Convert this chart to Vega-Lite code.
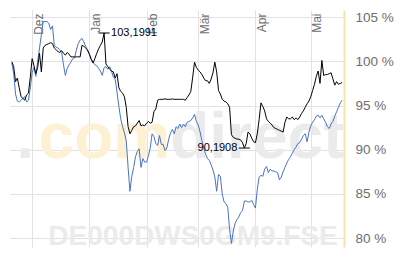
{
  "$schema": "https://vega.github.io/schema/vega-lite/v6.json",
  "width": 334,
  "height": 237,
  "autosize": {"type": "none"},
  "padding": {"left": 10, "top": 10, "right": 69, "bottom": 23},
  "background": "white",
  "config": {"font": "Liberation Sans", "view": {"stroke": null}},
  "data": {"values": [
    {"date":"2012-11-20","fonds":99.94,"vergleich":99.8},
    {"date":"2012-11-21","fonds":99.4,"vergleich":98.6},
    {"date":"2012-11-22","fonds":97.7,"vergleich":96.3},
    {"date":"2012-11-23","fonds":98.1,"vergleich":95.5},
    {"date":"2012-11-24","fonds":97.0,"vergleich":95.4},
    {"date":"2012-11-25","fonds":96.0,"vergleich":95.6},
    {"date":"2012-11-26","fonds":95.8,"vergleich":95.8},
    {"date":"2012-11-27","fonds":95.6,"vergleich":96.0},
    {"date":"2012-11-28","fonds":96.2,"vergleich":95.4},
    {"date":"2012-11-29","fonds":96.4,"vergleich":95.6},
    {"date":"2012-11-30","fonds":98.2,"vergleich":97.0},
    {"date":"2012-12-01","fonds":100.3,"vergleich":98.7},
    {"date":"2012-12-02","fonds":99.5,"vergleich":99.3},
    {"date":"2012-12-03","fonds":98.6,"vergleich":98.3},
    {"date":"2012-12-04","fonds":99.3,"vergleich":100.0},
    {"date":"2012-12-05","fonds":100.9,"vergleich":101.5},
    {"date":"2012-12-06","fonds":98.8,"vergleich":103.0},
    {"date":"2012-12-07","fonds":101.5,"vergleich":104.5},
    {"date":"2012-12-08","fonds":101.8,"vergleich":104.5},
    {"date":"2012-12-09","fonds":101.9,"vergleich":104.5},
    {"date":"2012-12-10","fonds":102.0,"vergleich":104.3},
    {"date":"2012-12-11","fonds":102.1,"vergleich":103.6},
    {"date":"2012-12-12","fonds":102.0,"vergleich":104.0},
    {"date":"2012-12-13","fonds":101.5,"vergleich":101.8},
    {"date":"2012-12-14","fonds":101.3,"vergleich":101.6},
    {"date":"2012-12-15","fonds":101.1,"vergleich":101.5},
    {"date":"2012-12-16","fonds":101.0,"vergleich":101.3},
    {"date":"2012-12-17","fonds":101.2,"vergleich":101.0},
    {"date":"2012-12-18","fonds":100.9,"vergleich":99.6},
    {"date":"2012-12-19","fonds":100.7,"vergleich":98.4},
    {"date":"2012-12-20","fonds":101.0,"vergleich":99.2},
    {"date":"2012-12-21","fonds":100.8,"vergleich":99.6},
    {"date":"2012-12-22","fonds":100.5,"vergleich":99.9},
    {"date":"2012-12-23","fonds":100.5,"vergleich":100.3},
    {"date":"2012-12-24","fonds":100.5,"vergleich":100.4},
    {"date":"2012-12-25","fonds":100.5,"vergleich":101.3},
    {"date":"2012-12-26","fonds":100.5,"vergleich":102.0},
    {"date":"2012-12-27","fonds":100.5,"vergleich":102.4},
    {"date":"2012-12-28","fonds":101.8,"vergleich":102.6},
    {"date":"2012-12-29","fonds":101.7,"vergleich":102.2},
    {"date":"2012-12-30","fonds":101.5,"vergleich":101.7},
    {"date":"2012-12-31","fonds":101.3,"vergleich":101.2},
    {"date":"2013-01-01","fonds":100.8,"vergleich":100.8},
    {"date":"2013-01-02","fonds":100.2,"vergleich":100.3},
    {"date":"2013-01-03","fonds":99.8,"vergleich":99.9},
    {"date":"2013-01-04","fonds":100.3,"vergleich":99.6},
    {"date":"2013-01-05","fonds":100.9,"vergleich":99.5},
    {"date":"2013-01-06","fonds":101.4,"vergleich":99.2},
    {"date":"2013-01-07","fonds":101.8,"vergleich":98.9},
    {"date":"2013-01-08","fonds":102.2,"vergleich":98.4},
    {"date":"2013-01-09","fonds":103.1991,"vergleich":99.3},
    {"date":"2013-01-10","fonds":99.7,"vergleich":99.4},
    {"date":"2013-01-11","fonds":99.4,"vergleich":99.1},
    {"date":"2013-01-12","fonds":99.1,"vergleich":99.4},
    {"date":"2013-01-13","fonds":98.9,"vergleich":98.9},
    {"date":"2013-01-14","fonds":98.8,"vergleich":98.2},
    {"date":"2013-01-15","fonds":98.1,"vergleich":98.0},
    {"date":"2013-01-16","fonds":98.6,"vergleich":96.5},
    {"date":"2013-01-17","fonds":97.0,"vergleich":94.9},
    {"date":"2013-01-18","fonds":96.6,"vergleich":93.5},
    {"date":"2013-01-19","fonds":96.4,"vergleich":92.6},
    {"date":"2013-01-20","fonds":96.0,"vergleich":91.9},
    {"date":"2013-01-21","fonds":94.8,"vergleich":91.0},
    {"date":"2013-01-22","fonds":92.6,"vergleich":88.0},
    {"date":"2013-01-23","fonds":91.8,"vergleich":85.3},
    {"date":"2013-01-24","fonds":92.2,"vergleich":87.0},
    {"date":"2013-01-25","fonds":92.6,"vergleich":88.0},
    {"date":"2013-01-26","fonds":92.7,"vergleich":89.2},
    {"date":"2013-01-27","fonds":93.0,"vergleich":89.8},
    {"date":"2013-01-28","fonds":93.3,"vergleich":90.1},
    {"date":"2013-01-29","fonds":92.7,"vergleich":88.0},
    {"date":"2013-01-30","fonds":92.8,"vergleich":89.0},
    {"date":"2013-01-31","fonds":92.7,"vergleich":88.6},
    {"date":"2013-02-01","fonds":93.0,"vergleich":88.6},
    {"date":"2013-02-02","fonds":93.2,"vergleich":89.3},
    {"date":"2013-02-03","fonds":93.0,"vergleich":90.2},
    {"date":"2013-02-04","fonds":93.1,"vergleich":91.8},
    {"date":"2013-02-05","fonds":94.3,"vergleich":91.5},
    {"date":"2013-02-06","fonds":94.6,"vergleich":90.7},
    {"date":"2013-02-07","fonds":95.6,"vergleich":90.5},
    {"date":"2013-02-08","fonds":95.7,"vergleich":91.6},
    {"date":"2013-02-09","fonds":95.7,"vergleich":90.6},
    {"date":"2013-02-10","fonds":95.7,"vergleich":90.6},
    {"date":"2013-02-11","fonds":95.75,"vergleich":89.9},
    {"date":"2013-02-12","fonds":95.7,"vergleich":90.2},
    {"date":"2013-02-13","fonds":95.7,"vergleich":91.2},
    {"date":"2013-02-14","fonds":95.7,"vergleich":91.9},
    {"date":"2013-02-15","fonds":95.75,"vergleich":92.3},
    {"date":"2013-02-16","fonds":95.7,"vergleich":91.8},
    {"date":"2013-02-17","fonds":95.7,"vergleich":92.6},
    {"date":"2013-02-18","fonds":95.7,"vergleich":92.4},
    {"date":"2013-02-19","fonds":95.7,"vergleich":92.9},
    {"date":"2013-02-20","fonds":95.7,"vergleich":92.5},
    {"date":"2013-02-21","fonds":95.7,"vergleich":92.9},
    {"date":"2013-02-22","fonds":95.6,"vergleich":92.6},
    {"date":"2013-02-23","fonds":95.9,"vergleich":93.1},
    {"date":"2013-02-24","fonds":96.2,"vergleich":93.2},
    {"date":"2013-02-25","fonds":96.6,"vergleich":93.3},
    {"date":"2013-02-26","fonds":98.2,"vergleich":93.6},
    {"date":"2013-02-27","fonds":99.9,"vergleich":94.0},
    {"date":"2013-02-28","fonds":99.3,"vergleich":93.2},
    {"date":"2013-03-01","fonds":99.0,"vergleich":92.8},
    {"date":"2013-03-02","fonds":98.8,"vergleich":92.0},
    {"date":"2013-03-03","fonds":98.5,"vergleich":91.0},
    {"date":"2013-03-04","fonds":98.1,"vergleich":90.2},
    {"date":"2013-03-05","fonds":97.8,"vergleich":89.5},
    {"date":"2013-03-06","fonds":97.8,"vergleich":89.0},
    {"date":"2013-03-07","fonds":97.5,"vergleich":88.8},
    {"date":"2013-03-08","fonds":98.0,"vergleich":88.3},
    {"date":"2013-03-09","fonds":98.7,"vergleich":87.7},
    {"date":"2013-03-10","fonds":99.9,"vergleich":86.9},
    {"date":"2013-03-11","fonds":98.8,"vergleich":85.3},
    {"date":"2013-03-12","fonds":96.7,"vergleich":87.2},
    {"date":"2013-03-13","fonds":96.3,"vergleich":87.0},
    {"date":"2013-03-14","fonds":95.7,"vergleich":85.0},
    {"date":"2013-03-15","fonds":95.5,"vergleich":84.1},
    {"date":"2013-03-16","fonds":95.4,"vergleich":83.9},
    {"date":"2013-03-17","fonds":95.2,"vergleich":83.5},
    {"date":"2013-03-18","fonds":94.8,"vergleich":81.0},
    {"date":"2013-03-19","fonds":91.7,"vergleich":79.4},
    {"date":"2013-03-20","fonds":91.4,"vergleich":80.8},
    {"date":"2013-03-21","fonds":91.3,"vergleich":81.7},
    {"date":"2013-03-22","fonds":91.2,"vergleich":82.1},
    {"date":"2013-03-23","fonds":91.2,"vergleich":82.4},
    {"date":"2013-03-24","fonds":91.1,"vergleich":82.9},
    {"date":"2013-03-25","fonds":90.8,"vergleich":83.1},
    {"date":"2013-03-26","fonds":90.1908,"vergleich":84.2},
    {"date":"2013-03-27","fonds":90.7,"vergleich":84.2},
    {"date":"2013-03-28","fonds":92.0,"vergleich":84.1},
    {"date":"2013-03-29","fonds":91.8,"vergleich":84.1},
    {"date":"2013-03-30","fonds":91.3,"vergleich":84.3},
    {"date":"2013-03-31","fonds":90.9,"vergleich":83.8},
    {"date":"2013-04-01","fonds":90.8,"vergleich":83.4},
    {"date":"2013-04-02","fonds":91.8,"vergleich":85.5},
    {"date":"2013-04-03","fonds":93.4,"vergleich":86.9},
    {"date":"2013-04-04","fonds":95.3,"vergleich":87.1},
    {"date":"2013-04-05","fonds":94.9,"vergleich":87.0},
    {"date":"2013-04-06","fonds":94.4,"vergleich":87.8},
    {"date":"2013-04-07","fonds":93.5,"vergleich":88.1},
    {"date":"2013-04-08","fonds":93.2,"vergleich":87.4},
    {"date":"2013-04-09","fonds":93.0,"vergleich":87.8},
    {"date":"2013-04-10","fonds":92.8,"vergleich":87.6},
    {"date":"2013-04-11","fonds":92.5,"vergleich":87.6},
    {"date":"2013-04-12","fonds":92.4,"vergleich":87.5},
    {"date":"2013-04-13","fonds":92.3,"vergleich":87.4},
    {"date":"2013-04-14","fonds":92.2,"vergleich":86.6},
    {"date":"2013-04-15","fonds":92.1,"vergleich":86.9},
    {"date":"2013-04-16","fonds":92.0,"vergleich":87.5},
    {"date":"2013-04-17","fonds":93.1,"vergleich":88.0},
    {"date":"2013-04-18","fonds":93.7,"vergleich":88.5},
    {"date":"2013-04-19","fonds":93.5,"vergleich":88.9},
    {"date":"2013-04-20","fonds":93.5,"vergleich":89.2},
    {"date":"2013-04-21","fonds":93.7,"vergleich":89.6},
    {"date":"2013-04-22","fonds":93.4,"vergleich":90.0},
    {"date":"2013-04-23","fonds":93.6,"vergleich":90.3},
    {"date":"2013-04-24","fonds":93.4,"vergleich":90.7},
    {"date":"2013-04-25","fonds":93.7,"vergleich":90.8},
    {"date":"2013-04-26","fonds":94.1,"vergleich":91.2},
    {"date":"2013-04-27","fonds":94.4,"vergleich":91.6},
    {"date":"2013-04-28","fonds":94.8,"vergleich":91.8},
    {"date":"2013-04-29","fonds":95.2,"vergleich":90.9},
    {"date":"2013-04-30","fonds":95.5,"vergleich":92.0},
    {"date":"2013-05-01","fonds":96.0,"vergleich":92.7},
    {"date":"2013-05-02","fonds":96.7,"vergleich":93.1},
    {"date":"2013-05-03","fonds":97.4,"vergleich":93.4},
    {"date":"2013-05-04","fonds":98.3,"vergleich":93.8},
    {"date":"2013-05-05","fonds":98.9,"vergleich":93.9},
    {"date":"2013-05-06","fonds":97.5,"vergleich":93.6},
    {"date":"2013-05-07","fonds":100.1,"vergleich":93.9},
    {"date":"2013-05-08","fonds":98.4,"vergleich":93.5},
    {"date":"2013-05-09","fonds":98.5,"vergleich":93.1},
    {"date":"2013-05-10","fonds":98.5,"vergleich":92.6},
    {"date":"2013-05-11","fonds":98.6,"vergleich":92.4},
    {"date":"2013-05-12","fonds":98.7,"vergleich":92.9},
    {"date":"2013-05-13","fonds":98.0,"vergleich":93.2},
    {"date":"2013-05-14","fonds":97.3,"vergleich":93.8},
    {"date":"2013-05-15","fonds":97.7,"vergleich":94.3},
    {"date":"2013-05-16","fonds":97.4,"vergleich":94.8},
    {"date":"2013-05-17","fonds":97.5,"vergleich":95.3},
    {"date":"2013-05-18","fonds":97.6,"vergleich":95.6}
  ]},
  "layer": [
    {
      "data": {"values": [{}]},
      "mark": {"type": "text", "text": ".", "fontWeight": "bold", "fontSize": 64, "align": "right", "baseline": "alphabetic", "color": "#ebebeb"},
      "encoding": {"x": {"datum": {"year": 2012, "month": 12, "date": 2, "hours": 0}, "type": "temporal"}, "y": {"datum": 89.05, "type": "quantitative"}}
    },
    {
      "data": {"values": [{}]},
      "mark": {"type": "text", "text": "com", "fontWeight": "bold", "fontSize": 64, "align": "right", "baseline": "alphabetic", "color": "#fdf1d4"},
      "encoding": {"x": {"datum": {"year": 2013, "month": 2, "date": 13, "hours": 19}, "type": "temporal"}, "y": {"datum": 89.05, "type": "quantitative"}}
    },
    {
      "data": {"values": [{}]},
      "mark": {"type": "text", "text": "direct", "fontWeight": "bold", "fontSize": 64, "align": "left", "baseline": "alphabetic", "color": "#ebebeb"},
      "encoding": {"x": {"datum": {"year": 2013, "month": 2, "date": 13, "hours": 19}, "type": "temporal"}, "y": {"datum": 89.05, "type": "quantitative"}}
    },
    {
      "data": {"values": [{}]},
      "mark": {"type": "text", "text": "DE000DWS0GM9.FSE", "fontWeight": "bold", "fontSize": 28, "align": "center", "baseline": "alphabetic", "color": "#ebebeb"},
      "encoding": {"x": {"datum": {"year": 2013, "month": 2, "date": 26, "hours": 5}, "type": "temporal"}, "y": {"datum": 79.21, "type": "quantitative"}}
    },
    {
      "mark": {"type": "line", "color": "#4a72c8", "strokeWidth": 1},
      "encoding": {
        "x": {
          "field": "date", "type": "temporal",
          "scale": {"domain": [{"year": 2012, "month": 11, "date": 19}, {"year": 2013, "month": 5, "date": 19}]},
          "axis": {
            "orient": "top", "title": null, "grid": true, "gridColor": "#e2e2e2", "domain": false, "ticks": false,
            "tickCount": {"interval": "month", "step": 1},
            "labelExpr": "['Jan','Feb','Mär','Apr','Mai','Jun','Jul','Aug','Sep','Okt','Nov','Dez'][month(datum.value)]",
            "labelAngle": 270, "labelAlign": "right", "labelBaseline": "top", "labelPadding": -3, "labelOffset": 1,
            "labelFlush": false, "labelOverlap": false, "labelColor": "#6e6e6e", "labelFontSize": 12
          }
        },
        "y": {
          "field": "vergleich", "type": "quantitative",
          "scale": {"domain": [79, 105.8], "nice": false, "zero": false},
          "axis": {
            "orient": "right", "title": null, "values": [80, 85, 90, 95, 100, 105],
            "labelExpr": "datum.value + ' %'", "grid": true, "gridColor": "#e2e2e2",
            "ticks": false, "domain": true, "domainColor": "#f8e3a8", "domainWidth": 2,
            "labelPadding": 11, "labelColor": "#6e6e6e", "labelFontSize": 13.5, "labelBaseline": "middle"
          }
        }
      }
    },
    {
      "mark": {"type": "line", "color": "#000000", "strokeWidth": 1},
      "encoding": {"x": {"field": "date", "type": "temporal"}, "y": {"field": "fonds", "type": "quantitative"}}
    },
    {
      "data": {"values": [
        {"date": "2013-01-09", "wert": 103.1991},
        {"date": "2013-03-26", "wert": 90.1908}
      ]},
      "mark": {"type": "tick", "orient": "horizontal", "size": 11, "thickness": 1, "color": "#000000", "opacity": 1},
      "encoding": {"x": {"field": "date", "type": "temporal"}, "y": {"field": "wert", "type": "quantitative"}}
    },
    {
      "data": {"values": [{"date": "2013-01-09", "wert": 103.1991, "label": "103,1991"}]},
      "mark": {"type": "text", "align": "left", "baseline": "middle", "dx": 7, "fontSize": 11, "color": "#000000"},
      "encoding": {"x": {"field": "date", "type": "temporal"}, "y": {"field": "wert", "type": "quantitative"}, "text": {"field": "label"}}
    },
    {
      "data": {"values": [{"date": "2013-03-26", "wert": 90.1908, "label": "90,1908"}]},
      "mark": {"type": "text", "align": "right", "baseline": "middle", "dx": -7, "fontSize": 11, "color": "#000000"},
      "encoding": {"x": {"field": "date", "type": "temporal"}, "y": {"field": "wert", "type": "quantitative"}, "text": {"field": "label"}}
    }
  ]
}
